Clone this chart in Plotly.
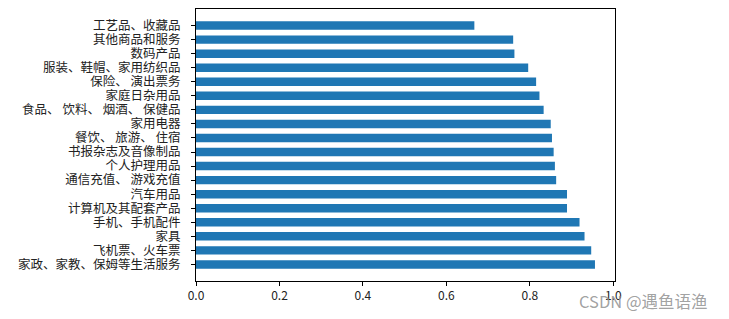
import plotly.graph_objects as go

# categories listed bottom to top
categories = [
    "家政、家教、保姆等生活服务",
    "飞机票、火车票",
    "家具",
    "手机、手机配件",
    "计算机及其配套产品",
    "汽车用品",
    "通信充值、 游戏充值",
    "个人护理用品",
    "书报杂志及音像制品",
    "餐饮、 旅游、 住宿",
    "家用电器",
    "食品、 饮料、 烟酒、 保健品",
    "家庭日杂用品",
    "保险、 演出票务",
    "服装、鞋帽、家用纺织品",
    "数码产品",
    "其他商品和服务",
    "工艺品、收藏品",
]
values = [0.956, 0.947, 0.931, 0.919, 0.889, 0.889, 0.863, 0.860, 0.857,
          0.853, 0.850, 0.833, 0.823, 0.815, 0.796, 0.763, 0.760, 0.667]
xticks = [0.0, 0.2, 0.4, 0.6, 0.8, 1.0]
xticklabels = ["0.0", "0.2", "0.4", "0.6", "0.8", "1.0"]

font_cjk = "Noto Sans CJK SC"

fig = go.Figure(go.Bar(
    x=values, y=categories, orientation="h",
    width=0.6, marker=dict(color="#1f77b4", line=dict(width=0)),
))

fig.update_layout(
    width=729, height=319, autosize=False,
    margin=dict(l=196, r=114, t=9, b=38),
    plot_bgcolor="white", paper_bgcolor="white",
    showlegend=False,
    font=dict(family=font_cjk, size=12.5, color="black"),
)
fig.update_xaxes(
    range=[0, 1.004], tickvals=xticks, ticktext=xticklabels,
    showgrid=False, zeroline=False,
    showline=True, linecolor="black", linewidth=1, mirror=True,
    ticks="outside", ticklen=4, tickcolor="black",
    tickfont=dict(family=font_cjk, size=12, color="#222"),
)
fig.update_yaxes(
    type="category", range=[-1.18, 18.18],
    tickmode="array", tickvals=categories, ticktext=categories,
    showgrid=False, zeroline=False,
    showline=True, linecolor="black", linewidth=1, mirror=True,
    ticks="outside", ticklen=4, tickcolor="black",
    tickfont=dict(family=font_cjk, size=12.5, color="#222"),
    ticklabelstandoff=8,
)
fig.add_annotation(
    text="CSDN @遇鱼语渔", xref="paper", yref="paper",
    x=(710 - 196) / 419, y=(281 - 301) / 272,
    xanchor="right", yanchor="middle", showarrow=False,
    font=dict(family=font_cjk, size=16.5, color="rgba(150,150,150,0.9)"),
)

fig.write_html("out.html")
